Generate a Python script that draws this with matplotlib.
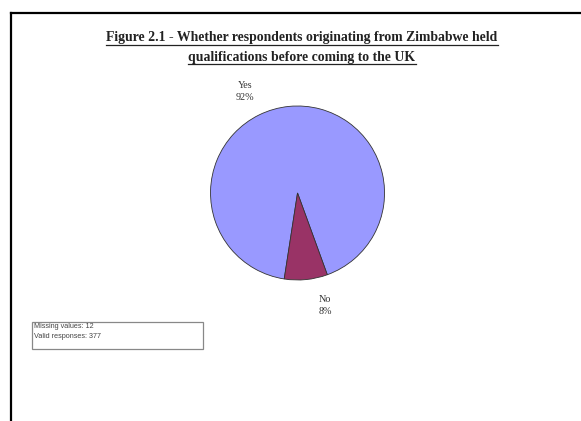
import matplotlib
matplotlib.use("Agg")
import matplotlib.pyplot as plt
from matplotlib.lines import Line2D
from matplotlib.patches import Rectangle

# data
categories = ["Yes", "No"]
percents = [92, 8]
colors = ["#9999FF", "#993366"]
title_lines = ["Figure 2.1 - Whether respondents originating from Zimbabwe held",
               "qualifications before coming to the UK"]
missing_values = 12
valid_responses = 377

W, H = 581, 421
fig = plt.figure(figsize=(W / 100, H / 100), dpi=100, facecolor="white")

# pie axes, radius ~87 px, centred at (297, 193)
ax = fig.add_axes([0.3249, 0.2833, 0.3744, 0.5166])
wedges, _ = ax.pie(percents, colors=colors, startangle=290, counterclock=True,
                   wedgeprops=dict(edgecolor="#333333", linewidth=0.6))
ax.set_aspect("auto")
ax.set_xlim(-1.25, 1.25)
ax.set_ylim(-1.25, 1.25)

label_pos = [(-0.60, 1.17), (0.32, -1.29)]
for cat, p, (lx, ly) in zip(categories, percents, label_pos):
    ax.text(lx, ly, f"{cat}\n{p}%", ha="center", va="center", fontsize=7.3,
            family="Liberation Serif", color="#333333", linespacing=1.4)

# title, bold and underlined
title_y = [38, 57]
title_txt = []
for line, y in zip(title_lines, title_y):
    t = fig.text(302 / W, 1 - y / H, line, ha="center", va="center",
                 fontsize=9.9, fontweight="bold", family="Liberation Serif",
                 color="#222222")
    title_txt.append(t)

fig.canvas.draw()
renderer = fig.canvas.get_renderer()
for t in title_txt:
    bb = t.get_window_extent(renderer)
    fig.add_artist(Line2D([bb.x0 / W, bb.x1 / W], [(bb.y0 - 0.5) / H] * 2,
                          transform=fig.transFigure, color="#222222", lw=0.9))

# info box
fig.add_artist(Rectangle((32 / W, 1 - 349 / H), 171 / W, 27 / H,
                         transform=fig.transFigure, facecolor="white",
                         edgecolor="#888888", lw=0.9))
fig.text(34 / W, 1 - 326 / H, f"Missing values: {missing_values}", fontsize=5.2,
         family="Liberation Sans", color="#444444", va="center")
fig.text(34 / W, 1 - 336.5 / H, f"Valid responses: {valid_responses}", fontsize=5.2,
         family="Liberation Sans", color="#444444", va="center")

# outer frame (top and left edges)
fig.add_artist(Line2D([10.5 / W, 1], [1 - 12.5 / H] * 2, transform=fig.transFigure,
                      color="black", lw=1.6))
fig.add_artist(Line2D([10.5 / W] * 2, [0, 1 - 12.5 / H], transform=fig.transFigure,
                      color="black", lw=1.6))

fig.savefig("out.png", dpi=100, facecolor="white")
